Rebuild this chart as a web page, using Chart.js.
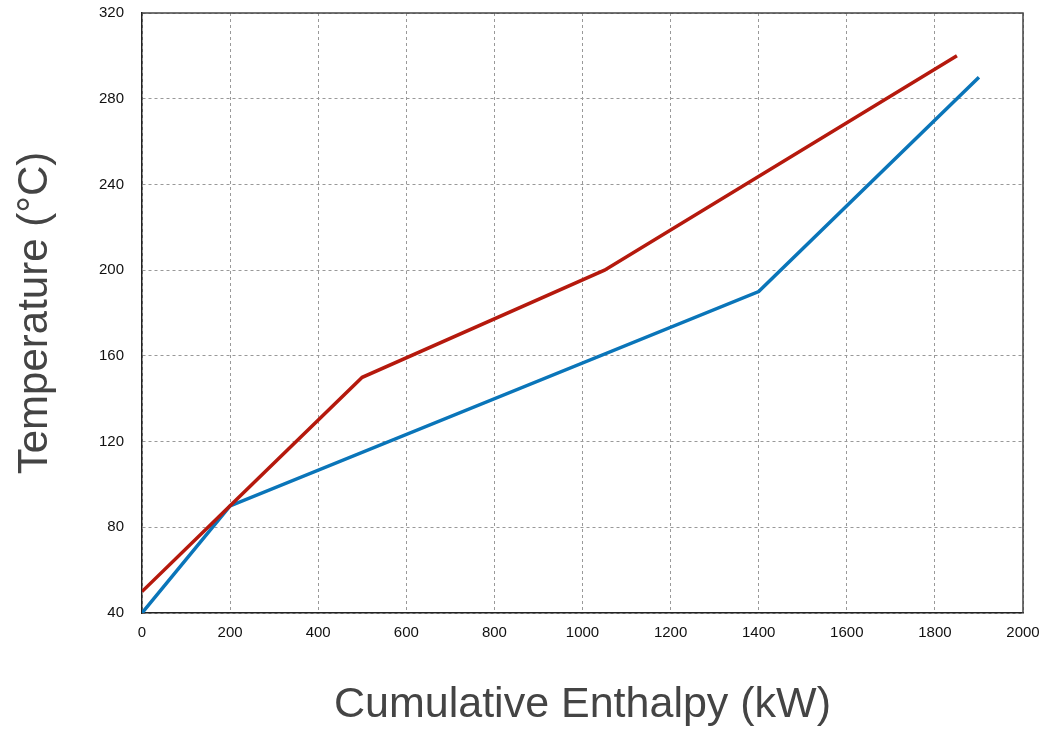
<!DOCTYPE html>
<html>
<head>
<meta charset="utf-8">
<script src="https://cdn.jsdelivr.net/npm/chart.js@4"></script>
<style>
  html, body { margin: 0; padding: 0; background: #fff; }
  #wrap { width: 1041px; height: 731px; }
</style>
</head>
<body>
<div id="wrap"><canvas id="chart" width="1041" height="731"></canvas></div>
<script>
// hot stream (red) and cold stream (blue) composite curves
const hotEnthalpy = [0, 200, 500, 1050, 1850]
const hotTemp = [50, 90, 150, 200, 300]
const coldEnthalpy = [0, 200, 1400, 1900]
const coldTemp = [40, 90, 190, 290]
const xTicks = [0, 200, 400, 600, 800, 1000, 1200, 1400, 1600, 1800, 2000]
const yTicks = [40, 80, 120, 160, 200, 240, 280, 320]

const toPoints = (xs, ys) => xs.map((x, i) => ({ x: x, y: ys[i] }))

// top and right edges of the plot box
const frame = {
  id: 'frame',
  afterDraw (chart) {
    const { ctx, chartArea: a } = chart
    ctx.save()
    ctx.strokeStyle = '#444'
    ctx.lineWidth = 1.5
    ctx.beginPath()
    ctx.moveTo(a.left, a.top)
    ctx.lineTo(a.right, a.top)
    ctx.lineTo(a.right, a.bottom)
    ctx.stroke()
    ctx.restore()
  }
}

const gridStyle = {
  color: '#999',
  lineWidth: 1,
  drawTicks: false
}

new Chart(document.getElementById('chart'), {
  type: 'scatter',
  data: {
    datasets: [{
      label: 'Hot',
      data: toPoints(hotEnthalpy, hotTemp),
      showLine: true,
      borderColor: '#b5190d',
      borderWidth: 3.5,
      pointRadius: 0,
      fill: false
    }, {
      label: 'Cold',
      data: toPoints(coldEnthalpy, coldTemp),
      showLine: true,
      borderColor: '#0a75b9',
      borderWidth: 3.5,
      pointRadius: 0,
      fill: false
    }]
  },
  options: {
    responsive: false,
    animation: false,
    layout: { padding: 0 },
    plugins: {
      legend: { display: false },
      tooltip: { enabled: false }
    },
    scales: {
      x: {
        type: 'linear',
        min: 0,
        max: 2000,
        afterBuildTicks (scale) { scale.ticks = xTicks.map(v => ({ value: v })) },
        afterFit (scale) {
          scale.height = 118
          scale.paddingRight = 18
        },
        grid: gridStyle,
        border: { display: true, color: '#222', width: 1.5, dash: [3, 3] },
        ticks: {
          color: '#111',
          padding: 11,
          maxRotation: 0,
          callback: v => String(v),
          font: { family: 'Liberation Sans', size: 15 }
        },
        title: {
          display: true,
          text: 'Cumulative Enthalpy (kW)',
          color: '#444',
          padding: { top: 0, bottom: 0 },
          font: { family: 'Liberation Sans', size: 43 }
        }
      },
      y: {
        type: 'linear',
        min: 40,
        max: 320,
        afterBuildTicks (scale) { scale.ticks = yTicks.map(v => ({ value: v })) },
        afterFit (scale) {
          scale.width = 142
          scale.paddingTop = 13
        },
        grid: gridStyle,
        border: { display: true, color: '#222', width: 1.5, dash: [3, 3] },
        ticks: {
          color: '#111',
          padding: 18,
          callback: v => String(v),
          font: { family: 'Liberation Sans', size: 15 }
        },
        title: {
          display: true,
          text: 'Temperature (°C)',
          color: '#444',
          padding: { top: 10, bottom: 10 },
          font: { family: 'Liberation Sans', size: 42 }
        }
      }
    }
  },
  plugins: [frame]
})
</script>
</body>
</html>
